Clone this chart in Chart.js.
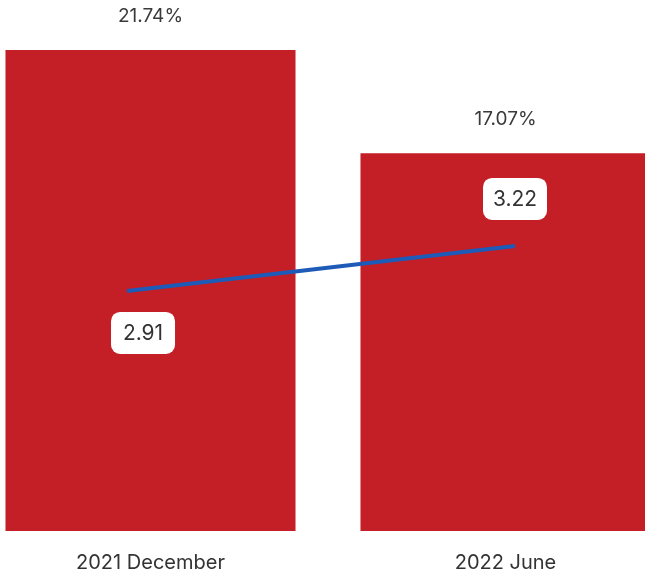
<!DOCTYPE html>
<html>
<head>
<meta charset="utf-8">
<script src="https://cdn.jsdelivr.net/npm/chart.js@4"></script>
<style>
  html, body { margin: 0; padding: 0; background: #fff; overflow: hidden; }
  #wrap { position: absolute; left: -27px; top: 0; width: 710px; height: 578px; }
</style>
</head>
<body>
<div id="wrap"><canvas id="bar-line"></canvas></div>
<script>
var categories = ['2021 December', '2022 June'];
var barValues = [21.74, 17.07];
var barLabels = ['21.74%', '17.07%'];
var lineValues = [2.91, 3.22];
var lineLabels = ['2.91', '3.22'];

var FONT = 'Inter, "Open Sans", sans-serif';

// draws the % above bars and the boxed values of the line
var valueLabels = {
  id: 'valueLabels',
  afterDatasetsDraw: function(chart) {
    var ctx = chart.ctx;
    ctx.save();
    var bars = chart.getDatasetMeta(0).data;
    ctx.font = '19px ' + FONT;
    ctx.fillStyle = '#3a3a3a';
    ctx.textAlign = 'center';
    ctx.textBaseline = 'middle';
    bars.forEach(function(b, i) {
      ctx.fillText(barLabels[i], b.x, b.y - 34);
    });

    var pts = chart.getDatasetMeta(1).data;
    var offs = [[16, 42], [0, -47]];
    ctx.font = '21px ' + FONT;
    pts.forEach(function(p, i) {
      var cx = p.x + offs[i][0], cy = p.y + offs[i][1];
      var w = 64, h = 42;
      ctx.fillStyle = '#ffffff';
      ctx.beginPath();
      ctx.roundRect(cx - w / 2, cy - h / 2, w, h, 9);
      ctx.fill();
      ctx.fillStyle = '#333333';
      ctx.fillText(lineLabels[i], cx, cy + 1);
    });
    ctx.restore();
  }
};

new Chart(document.getElementById('bar-line'), {
  data: {
    labels: categories,
    datasets: [{
      type: 'bar',
      data: barValues,
      backgroundColor: '#c41e26',
      grouped: false,
      categoryPercentage: 1,
      barPercentage: 0.817,
      xAxisID: 'x',
      yAxisID: 'y',
      order: 2
    }, {
      type: 'line',
      data: lineValues.map(function(v, i) { return { x: i, y: v }; }),
      borderColor: '#1e5bb8',
      borderWidth: 4,
      pointRadius: 0,
      fill: false,
      xAxisID: 'x2',
      yAxisID: 'y2',
      order: 1
    }]
  },
  options: {
    responsive: true,
    maintainAspectRatio: false,
    animation: false,
    layout: { padding: { top: 0, bottom: 3, left: 0, right: 0 } },
    plugins: {
      legend: { display: false },
      tooltip: { enabled: false }
    },
    scales: {
      x: {
        type: 'category',
        offset: true,
        grid: { display: false, drawTicks: false },
        border: { display: false },
        ticks: { padding: 20, maxRotation: 0, color: '#333', font: { family: FONT, size: 20 } },
        afterFit: function(scale) { scale.height = 44; }
      },
      x2: { type: 'linear', display: false, min: -0.397, max: 1.433 },
      y: { display: false, min: 0, max: 24 },
      y2: { display: false, min: 1.257, max: 4.914 }
    }
  },
  plugins: [valueLabels]
});
</script>
</body>
</html>
